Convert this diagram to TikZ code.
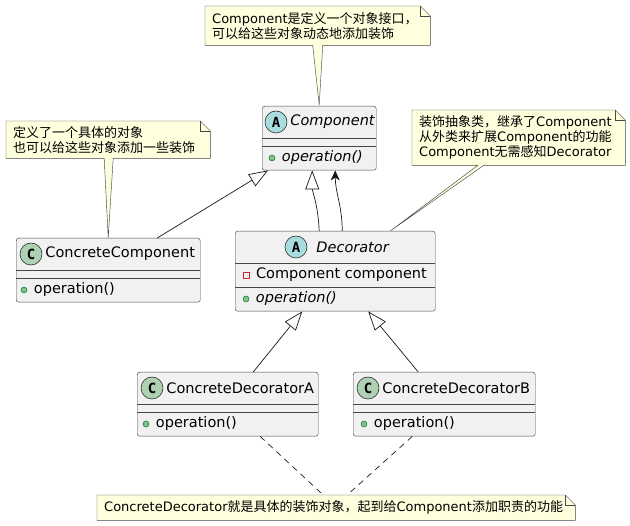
\documentclass[tikz,border=0pt]{standalone}
\usepackage{fontspec}
\setmainfont{DejaVu Sans}[ItalicFont={DejaVu Sans Oblique}]
\newfontfamily\zhfont{Noto Sans CJK SC}
\newfontfamily\spotfont{DejaVu Sans Mono Bold}
\usepackage{xcolor}
\usepackage{tikz}
\usetikzlibrary{arrows.meta, positioning, calc, backgrounds}
\definecolor{umlline}{HTML}{181818}
\definecolor{umlbox}{HTML}{F1F1F1}
\definecolor{notefill}{HTML}{FEFFDD}
\definecolor{spotC}{HTML}{ADD1B2}
\definecolor{spotA}{HTML}{A9DCDF}
\definecolor{pubfill}{HTML}{84BE84}
\definecolor{pubdraw}{HTML}{038048}
\definecolor{privdraw}{HTML}{C82930}
\tikzset{
  %---------------------------------------%
  %  Class boxes                          %
  %---------------------------------------%
  % Box for a class
  box_class/.style={
    rectangle,
    anchor=north west,
    rounded corners=2.5pt,
    draw=umlline!80,
    fill=umlbox,
    line width=0.45pt,
    inner sep=0pt
  },
  % Line between the parts of a class box
  box_sep/.style={draw=umlline!80, line width=0.45pt},
  % Circle with the letter of a class
  spot_class/.style={
    circle,
    draw=umlline,
    fill=spotC,
    line width=0.5pt,
    minimum size=22pt,
    inner sep=0pt,
    font=\spotfont\fontsize{14}{14}\selectfont
  },
  % Circle with the letter of an abstract class
  spot_abstract/.style={spot_class, fill=spotA},
  % Names and members
  name_class/.style={inner sep=0pt, font=\fontsize{14.5}{16}\selectfont},
  name_abstract/.style={inner sep=0pt, font=\fontsize{14.5}{16}\selectfont\itshape},
  icon_public/.style={
    circle,
    draw=pubdraw,
    fill=pubfill,
    line width=0.5pt,
    minimum size=6pt,
    inner sep=0pt
  },
  icon_private/.style={
    rectangle,
    draw=privdraw,
    line width=0.7pt,
    minimum size=6pt,
    inner sep=0pt
  },
  %----------------%
  %     Notes      %
  %----------------%
  note_text/.style={
    anchor=north west,
    inner xsep=7pt,
    inner ysep=0pt,
    align=left,
    font=\fontsize{13}{15}\selectfont
  },
  note_shape/.style={draw=umlline!80, fill=notefill, line width=0.45pt},
  %----------------%
  %     Arrows     %
  %----------------%
  arrow_extends/.style={draw=umlline, line width=0.7pt, -{Triangle[length=19pt, width=14pt, fill=white]}},
  arrow_assoc/.style={draw=umlline, line width=0.7pt, -{Stealth[length=10pt, width=9pt, inset=3pt]}},
  arrow_note/.style={draw=umlline, line width=0.7pt, dash pattern=on 6pt off 5pt},
}
\newcommand{\zh}[1]{{\zhfont #1}}

\begin{document}
\begin{tikzpicture}[x=1pt, y=-1pt]
    \useasboundingbox (0,0) rectangle (630,526);

    %------------------%
    %    Component     %
    %------------------%
    \node (comp) [box_class, minimum width=114pt, minimum height=64pt] at (262, 106) {};
    \draw [box_sep] ($(comp.north west)+(0,32)$) -- ($(comp.north east)+(0,32)$);
    \draw [box_sep] ($(comp.north west)+(0,40)$) -- ($(comp.north east)+(0,40)$);
    \node (comp_spot) [spot_abstract] at (276, 122) {A};
    \node (comp_name) [name_abstract, right=3pt of comp_spot] {Component};
    \node (comp_op_icon) [icon_public] at (272, 158) {};
    \node (comp_op) [name_abstract, right=6.5pt of comp_op_icon] {operation()};

    %------------------%
    %    Decorator     %
    %------------------%
    \node (deco) [box_class, minimum width=200pt, minimum height=80pt] at (235, 231) {};
    \draw [box_sep] ($(deco.north west)+(0,32)$) -- ($(deco.north east)+(0,32)$);
    \draw [box_sep] ($(deco.north west)+(0,56)$) -- ($(deco.north east)+(0,56)$);
    \node (deco_spot) [spot_abstract] at (296, 247) {A};
    \node (deco_name) [name_abstract, right=9pt of deco_spot] {Decorator};
    \node (deco_attr_icon) [icon_private] at (246, 275) {};
    \node (deco_attr) [name_class, right=6.5pt of deco_attr_icon] {Component component};
    \node (deco_op_icon) [icon_public] at (246, 299) {};
    \node (deco_op) [name_abstract, right=6.5pt of deco_op_icon] {operation()};

    %----------------------%
    %  ConcreteComponent   %
    %----------------------%
    \node (cc) [box_class, minimum width=184pt, minimum height=64pt] at (16, 238) {};
    \draw [box_sep] ($(cc.north west)+(0,32)$) -- ($(cc.north east)+(0,32)$);
    \draw [box_sep] ($(cc.north west)+(0,40)$) -- ($(cc.north east)+(0,40)$);
    \node (cc_spot) [spot_class] at (31, 254) {C};
    \node (cc_name) [name_class, right=3pt of cc_spot] {ConcreteComponent};
    \node (cc_op_icon) [icon_public] at (24, 290) {};
    \node (cc_op) [name_class, right=6.5pt of cc_op_icon] {operation()};

    %------------------------%
    %  ConcreteDecoratorA/B  %
    %------------------------%
    % ConcreteDecoratorA
    \node (cda) [box_class, minimum width=181pt, minimum height=64pt] at (137, 372) {};
    \draw [box_sep] ($(cda.north west)+(0,32)$) -- ($(cda.north east)+(0,32)$);
    \draw [box_sep] ($(cda.north west)+(0,40)$) -- ($(cda.north east)+(0,40)$);
    \node (cda_spot) [spot_class] at (152, 388) {C};
    \node (cda_name) [name_class, right=3pt of cda_spot] {ConcreteDecoratorA};
    \node (cda_op_icon) [icon_public] at (146, 424) {};
    \node (cda_op) [name_class, right=6.5pt of cda_op_icon] {operation()};
    % ConcreteDecoratorB
    \node (cdb) [box_class, minimum width=182pt, minimum height=64pt] at (353, 372) {};
    \draw [box_sep] ($(cdb.north west)+(0,32)$) -- ($(cdb.north east)+(0,32)$);
    \draw [box_sep] ($(cdb.north west)+(0,40)$) -- ($(cdb.north east)+(0,40)$);
    \node (cdb_spot) [spot_class] at (368, 388) {C};
    \node (cdb_name) [name_class, right=3pt of cdb_spot] {ConcreteDecoratorB};
    \node (cdb_op_icon) [icon_public] at (364, 424) {};
    \node (cdb_op) [name_class, right=6.5pt of cdb_op_icon] {operation()};

    %----------%
    %  Notes   %
    %----------%
    % Note on Component
    \node (note_comp) [note_text, text width=211pt, minimum height=39pt] at (205, 6)
      {Component\zh{是定义一个对象接口，}\\\zh{可以给这些对象动态地添加装饰}};
    % Note on ConcreteComponent
    \node (note_cc) [note_text, text width=190pt, minimum height=37pt] at (6, 121)
      {\zh{定义了一个具体的对象}\\\zh{也可以给这些对象添加一些装饰}};
    % Note on Decorator
    \node (note_deco) [note_text, text width=199pt, minimum height=55pt] at (412, 110)
      {\zh{装饰抽象类，继承了}Component\\\zh{从外类来扩展}Component\zh{的功能}\\Component\zh{无需感知}Decorator};
    % Note on ConcreteDecoratorA/B
    \node (note_cd) [note_text, text width=464pt, minimum height=25pt] at (97, 495)
      {ConcreteDecorator\zh{就是具体的装饰对象，起到给}Component\zh{添加职责的功能}};

    \begin{scope}[on background layer]
      % Note on Component, with its tail
      \draw [note_shape] (note_comp.north west) -- ([xshift=-10pt]note_comp.north east)
        -- ([yshift=-10pt]note_comp.north east) -- (note_comp.south east)
        -- ([xshift=5pt]note_comp.south) -- ([yshift=1pt]comp.north)
        -- ([xshift=-5pt]note_comp.south) -- (note_comp.south west) -- cycle;
      % Note on ConcreteComponent, with its tail
      \draw [note_shape] (note_cc.north west) -- ([xshift=-10pt]note_cc.north east)
        -- ([yshift=-10pt]note_cc.north east) -- (note_cc.south east)
        -- ([xshift=5pt]note_cc.south) -- (cc.north)
        -- ([xshift=-4pt]note_cc.south) -- (note_cc.south west) -- cycle;
      % Note on Decorator, with its tail
      \draw [note_shape] (note_deco.north west) -- ([xshift=-10pt]note_deco.north east)
        -- ([yshift=-10pt]note_deco.north east) -- (note_deco.south east)
        -- ([xshift=-35pt]note_deco.south) -- ([xshift=55pt]deco.north)
        -- ([xshift=-41pt]note_deco.south) -- (note_deco.south west) -- cycle;
      % Note on ConcreteDecoratorA/B
      \draw [note_shape] (note_cd.north west) -- ([xshift=-10pt]note_cd.north east)
        -- ([yshift=-10pt]note_cd.north east) -- (note_cd.south east)
        -- (note_cd.south west) -- cycle;
    \end{scope}
    % Folded corners
    \draw [box_sep] ([xshift=-10pt]note_comp.north east) |- ([yshift=-10pt]note_comp.north east);
    \draw [box_sep] ([xshift=-10pt]note_cc.north east) |- ([yshift=-10pt]note_cc.north east);
    \draw [box_sep] ([xshift=-10pt]note_deco.north east) |- ([yshift=-10pt]note_deco.north east);
    \draw [box_sep] ([xshift=-10pt]note_cd.north east) |- ([yshift=-10pt]note_cd.north east);

    %----------%
    %  Arrows  %
    %----------%
    % ConcreteComponent --> Component
    \draw [arrow_extends] ([xshift=49pt]cc.north) -- ([xshift=6pt]comp.south west);
    % Decorator --> Component (inheritance)
    \draw [arrow_extends] ([xshift=-16pt]deco.north) .. controls +(-1,-25) and +(0,20) .. ([xshift=-7pt]comp.south);
    % Decorator --> Component (association)
    \draw [arrow_assoc] ([xshift=7pt]deco.north) .. controls +(0,-25) and +(0,22) .. ([xshift=16pt]comp.south);
    % ConcreteDecoratorA --> Decorator
    \draw [arrow_extends] ([xshift=25.5pt]cda.north) -- ([xshift=-33pt]deco.south);
    % ConcreteDecoratorB --> Decorator
    \draw [arrow_extends] ([xshift=-26pt]cdb.north) -- ([xshift=33pt]deco.south);
    % ConcreteDecoratorA/B .. Note
    \draw [arrow_note] ([xshift=32.5pt]cda.south) -- ([xshift=-13pt]note_cd.north);
    \draw [arrow_note] ([xshift=-32pt]cdb.south) -- ([xshift=11pt]note_cd.north);
\end{tikzpicture}
\end{document}
